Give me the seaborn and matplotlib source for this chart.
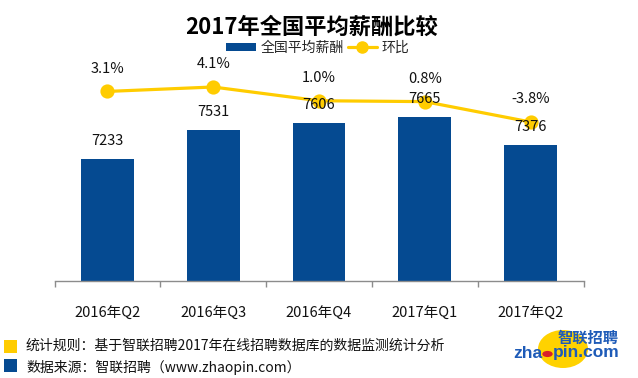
import matplotlib
matplotlib.use("Agg")
import matplotlib.pyplot as plt
import seaborn as sns
import numpy as np
import pandas as pd
from matplotlib.patches import Rectangle, Ellipse, Circle
from matplotlib.lines import Line2D

# ---- data ----
categories = ["2016年Q2", "2016年Q3", "2016年Q4", "2017年Q1", "2017年Q2"]
salary = [7233, 7531, 7606, 7665, 7376]
growth = [3.1, 4.1, 1.0, 0.8, -3.8]
growth_labels = ["3.1%", "4.1%", "1.0%", "0.8%", "-3.8%"]

title = "2017年全国平均薪酬比较"
legend_bar = "全国平均薪酬"
legend_line = "环比"
note1 = "统计规则：基于智联招聘2017年在线招聘数据库的数据监测统计分析"
note2 = "数据来源：智联招聘（www.zhaopin.com）"

BLUE = "#054A91"
YELLOW = "#FFCC00"

sns.set_theme(style="white")
plt.rcParams["font.family"] = ["Noto Sans CJK SC", "DejaVu Sans"]

W, H = 638, 378
fig = plt.figure(figsize=(W / 100, H / 100), dpi=100)

def fx(px):
    return px / W

def fy(py):
    return 1 - py / H

ax_left, ax_right, ax_top, ax_bot = 54.5, 583.5, 60, 281
ax = fig.add_axes([fx(ax_left), fy(ax_bot), (ax_right - ax_left) / W, (ax_bot - ax_top) / H])

df = pd.DataFrame({"cat": categories, "salary": salary, "growth": growth})
sns.barplot(data=df, x="cat", y="salary", ax=ax, color=BLUE, width=0.5,
            saturation=1, edgecolor="none", order=categories)
ax.set_ylim(5978, 5978 + 221 * 10.29)
ax.set_xlim(-0.5, 4.5)

ax2 = ax.twinx()
sns.pointplot(data=df, x="cat", y="growth", ax=ax2, color=YELLOW, order=categories,
              markers="o", linestyles="-", markersize=8.5, linewidth=2.3)
ax2.set_ylim(4.1 - (ax_bot - 87) / 4.43, 4.1 + (87 - ax_top) / 4.43)
ax2.set_xlim(-0.5, 4.5)

for a in (ax, ax2):
    for s in ["top", "right", "left"]:
        a.spines[s].set_visible(False)
    a.set_ylabel("")
    a.set_xlabel("")
    a.set_yticks([])
ax2.spines["bottom"].set_visible(False)
ax.spines["bottom"].set_color("#8c8c8c")
ax.spines["bottom"].set_linewidth(1.0)

ax.set_xticks(range(len(categories)))
ax.set_xticklabels(categories, fontsize=10.5, color="#111111")
ax.tick_params(axis="x", which="major", length=0, pad=18.5)
ax.set_xticks(np.arange(-0.5, len(categories), 1.0), minor=True)
ax.tick_params(axis="x", which="minor", length=4, width=1.0, color="#8c8c8c", direction="out")
ax.xaxis.set_ticks_position("bottom")

# labels (on top axes so they sit over the line)
for i, v in enumerate(salary):
    ax2.annotate(str(v), xy=(i, v), xycoords=ax.transData, xytext=(0, 13),
                 textcoords="offset points", ha="center", va="center",
                 fontsize=10.5, color="#111111", zorder=10)
for i, (v, lab) in enumerate(zip(growth, growth_labels)):
    ax2.annotate(lab, xy=(i, v), xycoords=ax2.transData, xytext=(0, 16.5),
                 textcoords="offset points", ha="center", va="center",
                 fontsize=10.5, color="#111111", zorder=10)

# title
fig.text(fx(312), fy(27), title, ha="center", va="center", fontsize=16,
         fontweight="bold", color="#000000")

# legend
handles = [Rectangle((0, 0), 1, 1, facecolor=BLUE, edgecolor="none"),
           Line2D([0], [0], color=YELLOW, lw=2.3, marker="o", markersize=8)]
fig.legend(handles, [legend_bar, legend_line], loc="center",
           bbox_to_anchor=(fx(318), fy(48)), ncol=2, frameon=False,
           fontsize=10, handlelength=2.1, handleheight=0.55,
           handletextpad=0.35, columnspacing=0.3, borderaxespad=0, borderpad=0)

# footer notes
fig.patches.append(Rectangle((fx(4), fy(353)), 13 / W, 13 / H, transform=fig.transFigure,
                             facecolor=YELLOW, edgecolor="none"))
fig.patches.append(Rectangle((fx(4), fy(372)), 13 / W, 13 / H, transform=fig.transFigure,
                             facecolor=BLUE, edgecolor="none"))
fig.text(fx(26), fy(345.5), note1, ha="left", va="center", fontsize=10, color="#111111")
fig.text(fx(26), fy(367), note2, ha="left", va="center", fontsize=10, color="#111111")

# logo
fig.patches.append(Ellipse((fx(563), fy(349)), 50 / W, 38 / H, transform=fig.transFigure,
                           facecolor="#FFD200", edgecolor="none"))
fig.text(fx(619), fy(338), "智联招聘", ha="right", va="center", fontsize=11,
         fontweight="bold", color="#1E5BB8", style="italic")
fig.text(fx(542), fy(353), "zha", ha="right", va="center", fontsize=12.5,
         fontweight="bold", color="#1E5BB8", family="Liberation Sans")
fig.patches.append(Circle((fx(547.5), fy(354)), 5.2 / W, transform=fig.transFigure,
                          facecolor="#D8202A", edgecolor="none"))
fig.text(fx(553), fy(353), "pin.com", ha="left", va="center", fontsize=12.5,
         fontweight="bold", color="#1E5BB8", family="Liberation Sans")

fig.savefig("out.png", dpi=100)
